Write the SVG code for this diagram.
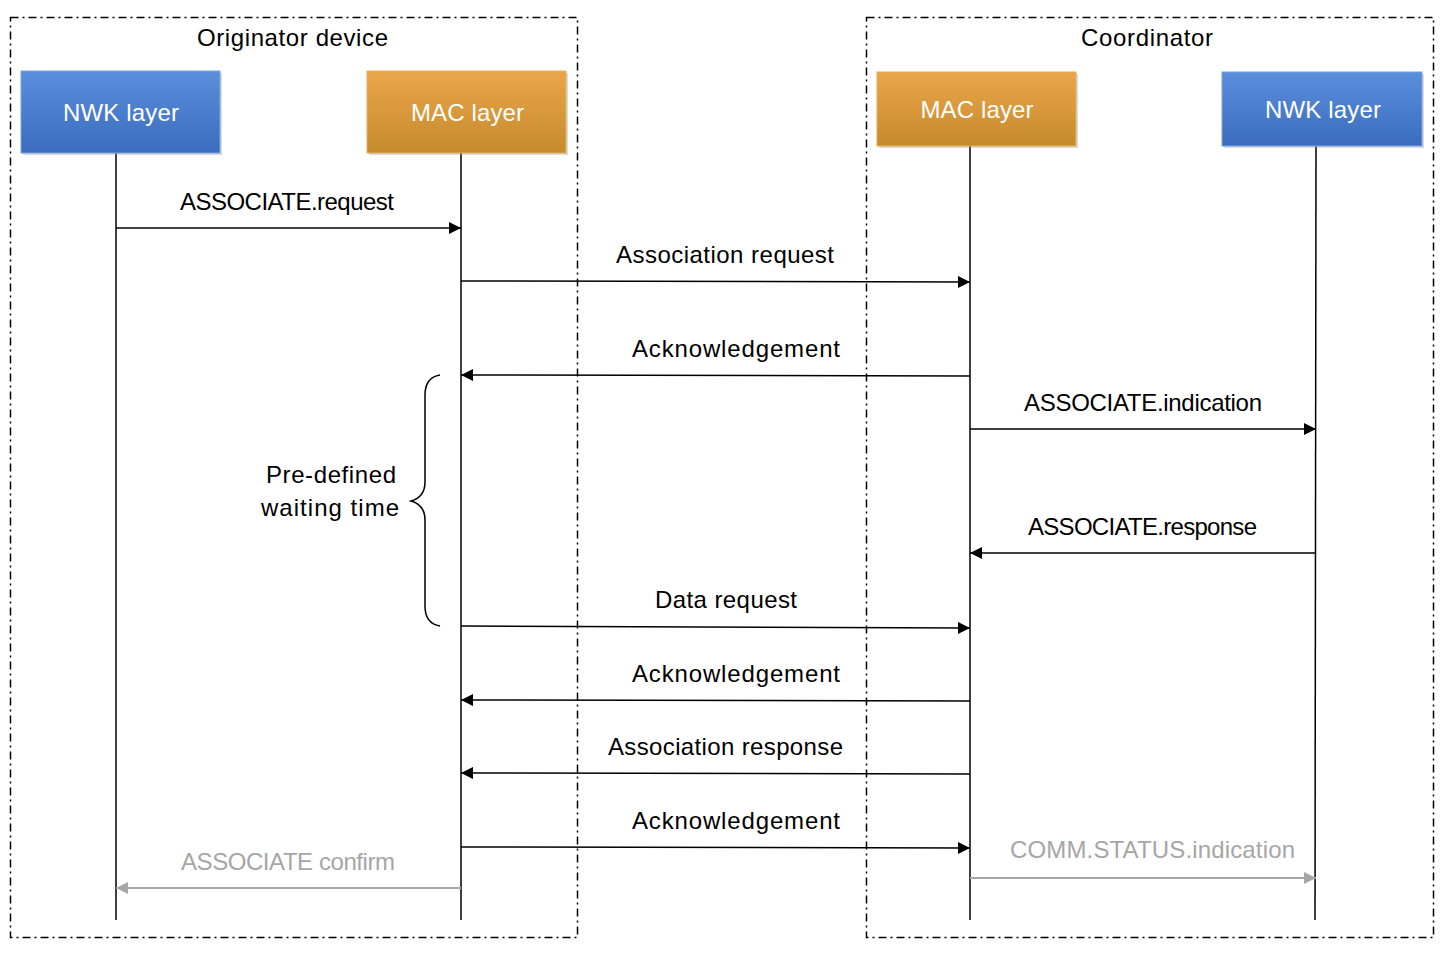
<svg xmlns="http://www.w3.org/2000/svg" width="1442" height="955" viewBox="0 0 1442 955">
<defs>
<linearGradient id="gBlue" x1="0" y1="0" x2="0" y2="1"><stop offset="0" stop-color="#5a8fdc"/><stop offset="1" stop-color="#3b6cbf"/></linearGradient>
<linearGradient id="gOrange" x1="0" y1="0" x2="0" y2="1"><stop offset="0" stop-color="#eaa64a"/><stop offset="1" stop-color="#c68a2c"/></linearGradient>
<marker id="ah" viewBox="0 0 10 10" refX="10" refY="5" markerWidth="12" markerHeight="12" markerUnits="userSpaceOnUse" orient="auto"><path d="M0,0 L10,5 L0,10 z" fill="#000"/></marker>
<marker id="ahg" viewBox="0 0 10 10" refX="10" refY="5" markerWidth="12" markerHeight="12" markerUnits="userSpaceOnUse" orient="auto"><path d="M0,0 L10,5 L0,10 z" fill="#a6a6a6"/></marker>
</defs>
<style>
.frame{fill:none;stroke:#000;stroke-width:1.5;stroke-dasharray:8 4 2 4}
.t{font-family:"Liberation Sans",Arial,sans-serif;font-size:24px;fill:#000;text-anchor:middle}
.tw{font-family:"Liberation Sans",Arial,sans-serif;font-size:24px;fill:#fff;text-anchor:middle}
.tg{font-family:"Liberation Sans",Arial,sans-serif;font-size:24px;fill:#a6a6a6;text-anchor:middle}
.life{stroke:#000;stroke-width:1.5}
.msg{stroke:#000;stroke-width:1.5;marker-end:url(#ah)}
.msgg{stroke:#a6a6a6;stroke-width:2;marker-end:url(#ahg)}
.blue{fill:url(#gBlue);stroke:#7aa3e0;stroke-width:1}
.orange{fill:url(#gOrange);stroke:#e0b060;stroke-width:1}
</style>
<rect width="1442" height="955" fill="#fff"/>
<g id="originator">
<rect class="frame" x="10.5" y="17.5" width="567" height="920"/>
<text class="t" x="292.5" y="46" textLength="191">Originator device</text>
</g>
<g id="coordinator">
<rect class="frame" x="866.5" y="17.5" width="567" height="920"/>
<text class="t" x="1147" y="46" textLength="132">Coordinator</text>
</g>
<g id="lifelines">
<line class="life" x1="116" y1="153" x2="116" y2="920"/>
<line class="life" x1="461" y1="153" x2="461" y2="920"/>
<line class="life" x1="970" y1="146" x2="970" y2="920"/>
<line class="life" x1="1316" y1="146" x2="1315" y2="920"/>
</g>
<g id="orig-nwk">
<rect x="23" y="73" width="199" height="82" fill="#999" opacity="0.35"/>
<rect class="blue" x="21" y="71" width="199" height="82"/>
<text class="tw" x="121" y="121" textLength="116">NWK layer</text>
</g>
<g id="orig-mac">
<rect x="369" y="73" width="199" height="82" fill="#999" opacity="0.35"/>
<rect class="orange" x="367" y="71" width="199" height="82"/>
<text class="tw" x="467.5" y="121" textLength="113">MAC layer</text>
</g>
<g id="coord-mac">
<rect x="879" y="74" width="199" height="74" fill="#999" opacity="0.35"/>
<rect class="orange" x="877" y="72" width="199" height="74"/>
<text class="tw" x="977" y="118" textLength="113">MAC layer</text>
</g>
<g id="coord-nwk">
<rect x="1224" y="74" width="200" height="74" fill="#999" opacity="0.35"/>
<rect class="blue" x="1222" y="72" width="200" height="74"/>
<text class="tw" x="1323" y="118" textLength="116">NWK layer</text>
</g>
<g id="brace">
<path d="M440,375 C428,377 425,385 425,395 L425,482 C425,494 418,499 411,501 C418,503 425,508 425,520 L425,606 C425,616 428,624 440,626" fill="none" stroke="#000" stroke-width="1.5"/>
<text class="t" x="331" y="483" textLength="130">Pre-defined</text>
<text class="t" x="330" y="516" textLength="138">waiting time</text>
</g>
<g id="connectors">
<line class="msg" x1="116" y1="228" x2="461" y2="228"/>
<text class="t" x="287" y="210" textLength="214">ASSOCIATE.request</text>
<line class="msg" x1="461" y1="281" x2="970" y2="282"/>
<text class="t" x="725" y="263" textLength="218">Association request</text>
<line class="msg" x1="970" y1="376" x2="461" y2="375"/>
<text class="t" x="736" y="357" textLength="208">Acknowledgement</text>
<line class="msg" x1="970" y1="429" x2="1316" y2="429"/>
<text class="t" x="1143" y="411" textLength="238">ASSOCIATE.indication</text>
<line class="msg" x1="1316" y1="553" x2="970" y2="553"/>
<text class="t" x="1142.5" y="535" textLength="229">ASSOCIATE.response</text>
<line class="msg" x1="461" y1="626" x2="970" y2="628"/>
<text class="t" x="726" y="608" textLength="142">Data request</text>
<line class="msg" x1="970" y1="701" x2="461" y2="700"/>
<text class="t" x="736" y="682" textLength="208">Acknowledgement</text>
<line class="msg" x1="970" y1="774" x2="461" y2="773"/>
<text class="t" x="725.5" y="755" textLength="235">Association response</text>
<line class="msg" x1="461" y1="847" x2="970" y2="848"/>
<text class="t" x="736" y="829" textLength="208">Acknowledgement</text>
<line class="msgg" x1="461" y1="888" x2="116" y2="888"/>
<text class="tg" x="288" y="870" textLength="214">ASSOCIATE confirm</text>
<line class="msgg" x1="970" y1="878" x2="1316" y2="878"/>
<text class="tg" x="1152.5" y="858" textLength="285">COMM.STATUS.indication</text>
</g>
</svg>
